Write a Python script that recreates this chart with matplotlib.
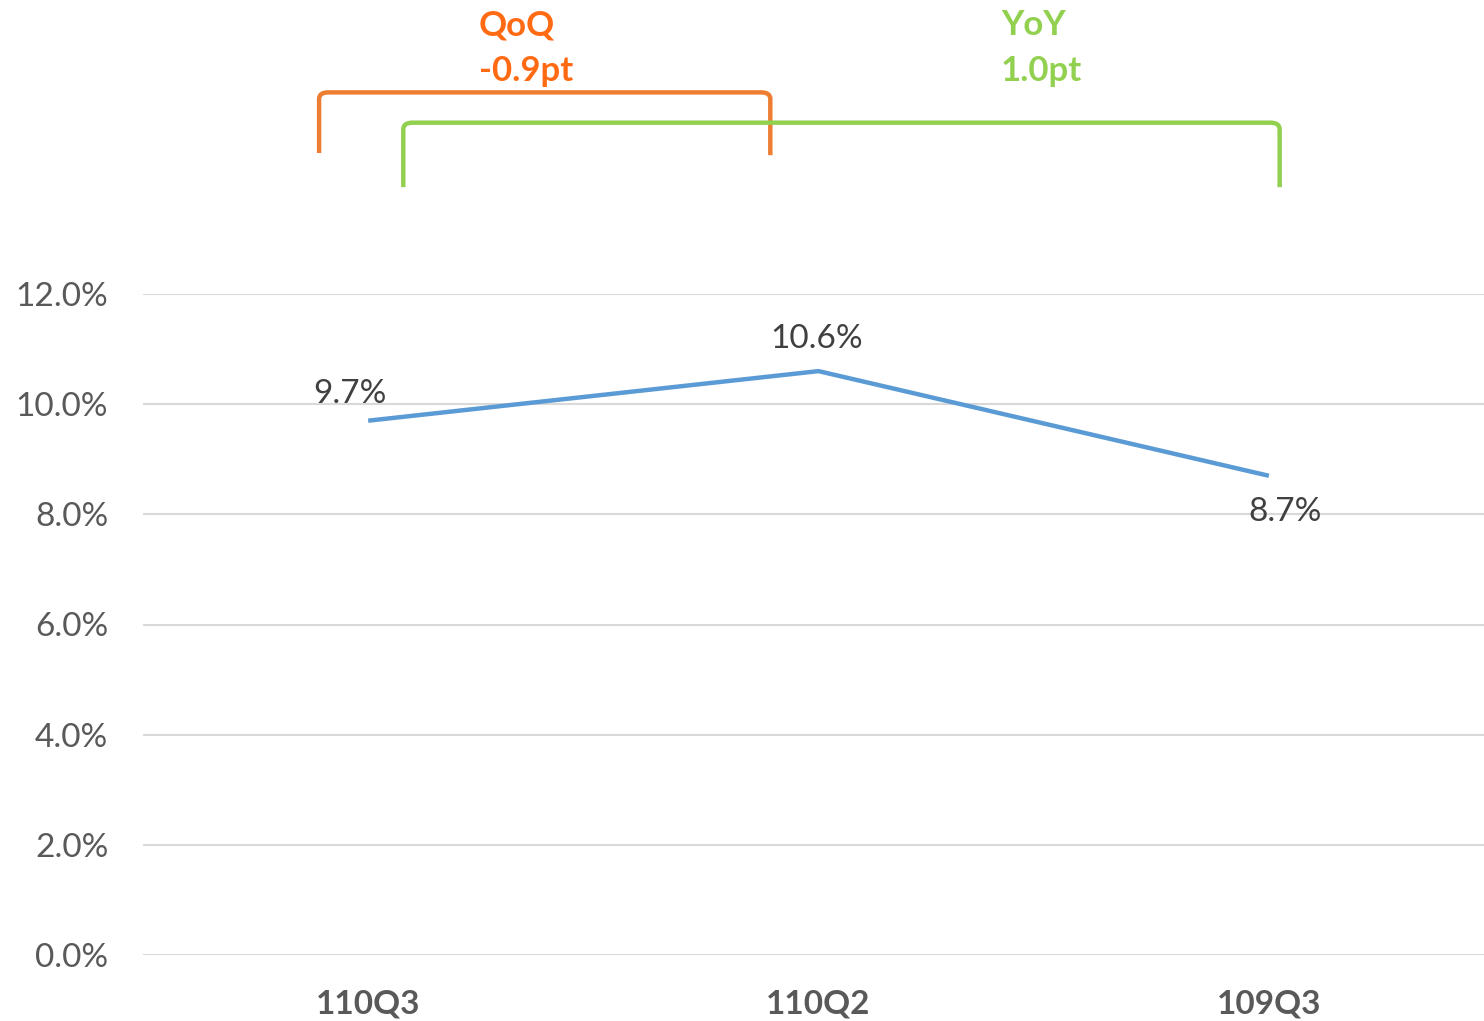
import matplotlib
matplotlib.use("Agg")
import matplotlib.pyplot as plt
from matplotlib.path import Path
from matplotlib.patches import PathPatch

categories = ["110Q3", "110Q2", "109Q3"]
values = [0.097, 0.106, 0.087]
value_labels = ["9.7%", "10.6%", "8.7%"]
yticks = [0.0, 0.02, 0.04, 0.06, 0.08, 0.10, 0.12]
ytick_labels = ["0.0%", "2.0%", "4.0%", "6.0%", "8.0%", "10.0%", "12.0%"]
qoq_text = ["QoQ", "-0.9pt"]
yoy_text = ["YoY", "1.0pt"]

plt.rcParams['font.family'] = ['Lato', 'DejaVu Sans']

fig = plt.figure(figsize=(14.84, 10.21), dpi=100)
ax = fig.add_axes([143/1484, 66/1021, 1351/1484, 661/1021])
ax.set_xlim(-0.5, 2.5)
ax.set_ylim(0, 0.12)

for s in ax.spines.values():
    s.set_visible(False)
ax.set_yticks(yticks)
ax.set_yticklabels(ytick_labels, fontsize=24, color='#595959')
ax.set_xticks(range(len(categories)))
ax.set_xticklabels(categories, fontsize=24, color='#595959', fontweight='bold')
ax.tick_params(axis='both', length=0)
ax.tick_params(axis='y', pad=25)
ax.tick_params(axis='x', pad=25)
ax.grid(axis='y', color='#D9D9D9', linewidth=1.5)
ax.axhline(0, color='#D9D9D9', linewidth=2)
ax.set_axisbelow(True)

ax.plot(range(len(categories)), values, color='#5B9BD5', linewidth=3.2, solid_capstyle='butt')

offsets = [(-13, 19), (-1, 23), (12, -26)]
for i, (v, lab) in enumerate(zip(values, value_labels)):
    ax.annotate(lab, (i, v), xytext=offsets[i], textcoords='offset points',
                ha='center', va='center', fontsize=24, color='#404040')

def bracket(x0, x1, ybot0, ybot1, ytop, color):
    r = 0.02
    ry = 0.0012
    verts = [(x0, ybot0), (x0, ytop - ry), (x0, ytop), (x0 + r, ytop),
             (x1 - r, ytop), (x1, ytop), (x1, ytop - ry), (x1, ybot1)]
    codes = [Path.MOVETO, Path.LINETO, Path.CURVE3, Path.CURVE3,
             Path.LINETO, Path.CURVE3, Path.CURVE3, Path.LINETO]
    ax.add_patch(PathPatch(Path(verts, codes), fill=False, edgecolor=color,
                           linewidth=3.2, clip_on=False, capstyle='butt'))

bracket(-0.109, 0.893, 0.1456, 0.1452, 0.1566, '#ED7D31')
bracket(0.078, 2.024, 0.1394, 0.1394, 0.1511, '#92D050')

for i, t in enumerate(qoq_text):
    ax.text(0.246, 0.1688 - i * 0.0083, t, ha='left', va='center', fontsize=25,
            fontweight='bold', color='#FF6A13', clip_on=False)
for i, t in enumerate(yoy_text):
    ax.text(1.405, 0.1688 - i * 0.0083, t, ha='left', va='center', fontsize=25,
            fontweight='bold', color='#92D050', clip_on=False)

fig.savefig("out.png", dpi=100)
